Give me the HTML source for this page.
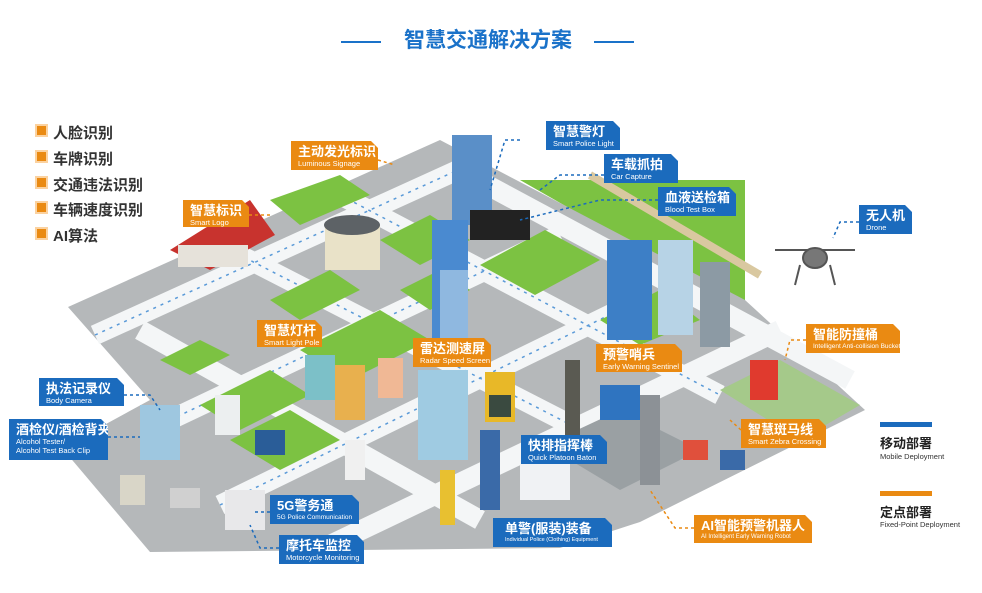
<!DOCTYPE html>
<html><head><meta charset="utf-8"><style>
html,body{margin:0;padding:0;background:#fff;}
body{width:982px;height:593px;position:relative;overflow:hidden;font-family:"Liberation Sans","Noto Sans CJK SC",sans-serif;}
.lb{position:absolute;color:#fff;clip-path:polygon(0 0,calc(100% - 7px) 0,100% 7px,100% 100%,0 100%);box-sizing:border-box;padding:3px 0 0 7px;}
.b{background:#1b6bbd}.o{background:#ea8a12}
.lb .c{font-weight:bold;font-size:13px;line-height:15px;white-space:nowrap;}
.lb .e{font-size:7.5px;line-height:9px;white-space:nowrap;}
.li{position:absolute;left:35px;font-size:15px;font-weight:bold;color:#333;line-height:18px;}
.li:before{content:"";display:inline-block;width:9px;height:9px;background:#ea8a12;border:2px solid #fbd2a0;margin-right:5px;vertical-align:1px;}
</style></head><body>
<div style="position:absolute;left:341px;top:41px;width:40px;height:2px;background:#1a72c9"></div>
<div style="position:absolute;left:594px;top:41px;width:40px;height:2px;background:#1a72c9"></div>
<div style="position:absolute;left:388px;top:28px;width:200px;text-align:center;font-size:21px;font-weight:bold;color:#1a72c9;line-height:26px">智慧交通解决方案</div>

<div class="li" style="top:124px">人脸识别</div>
<div class="li" style="top:150px">车牌识别</div>
<div class="li" style="top:176px">交通违法识别</div>
<div class="li" style="top:201px">车辆速度识别</div>
<div class="li" style="top:227px">AI算法</div>

<svg width="982" height="593" style="position:absolute;left:0;top:0">
<polygon points="520,180 745,180 745,310 660,260" fill="#7cc242"/>
<line x1="590" y1="175" x2="760" y2="275" stroke="#d9c8a0" stroke-width="8"/>
<polygon points="68,307 440,140 520,182 745,300 865,410 640,522 560,548 150,552 62,448 150,400" fill="#b5b8ba"/>
<g stroke="#f4f6f7" stroke-width="20" fill="none">
<line x1="95" y1="335" x2="480" y2="160"/>
<line x1="170" y1="420" x2="560" y2="235"/>
<line x1="220" y1="505" x2="640" y2="300"/>
<line x1="330" y1="545" x2="780" y2="330"/>
<line x1="230" y1="250" x2="620" y2="450"/>
<line x1="340" y1="195" x2="720" y2="395"/>
<line x1="140" y1="330" x2="480" y2="520"/>
<line x1="450" y1="165" x2="850" y2="380"/>
</g>
<g stroke="#5a9ad8" stroke-width="1.5" stroke-dasharray="3 5" fill="none">
<line x1="95" y1="335" x2="480" y2="160"/>
<line x1="170" y1="420" x2="560" y2="235"/>
<line x1="220" y1="505" x2="640" y2="300"/>
<line x1="230" y1="250" x2="620" y2="450"/>
<line x1="340" y1="195" x2="720" y2="395"/>
</g>
<g fill="#7cc242">
<polygon points="270,300 330,270 360,290 300,320"/>
<polygon points="300,350 380,310 430,340 350,380"/>
<polygon points="200,405 270,370 310,395 240,430"/>
<polygon points="230,440 290,410 340,440 280,470"/>
<polygon points="480,265 545,230 600,260 535,295"/>
<polygon points="380,240 430,215 470,240 420,265"/>
<polygon points="270,200 340,175 370,195 300,225"/>
<polygon points="600,320 660,290 700,320 640,345"/>
<polygon points="400,290 440,270 470,290 430,310"/>
<polygon points="160,360 200,340 230,355 190,375"/>
</g>
<polygon points="720,390 780,360 860,405 800,440" fill="#a5c98a"/>
<polygon points="545,445 620,410 700,450 620,490" fill="#9aa0a3"/>
<polygon points="170,250 250,200 275,235 210,270" fill="#c8332e"/>
<rect x="178" y="245" width="70" height="22" fill="#e6e2da"/>
<rect x="325" y="225" width="55" height="45" fill="#e9e2c8"/><ellipse cx="352" cy="225" rx="28" ry="10" fill="#5d6266"/>
<rect x="452" y="135" width="40" height="90" fill="#5a8fc8"/>
<rect x="432" y="220" width="36" height="120" fill="#4a8ad0"/><rect x="440" y="270" width="28" height="70" fill="#8fb8e0"/>
<rect x="607" y="240" width="45" height="100" fill="#3d7fc6"/>
<rect x="658" y="240" width="35" height="95" fill="#b7d3e6"/>
<rect x="700" y="262" width="30" height="85" fill="#8c9aa4"/>
<rect x="418" y="370" width="50" height="90" fill="#9fcbe2"/>
<rect x="305" y="355" width="30" height="45" fill="#7cc0c8"/><rect x="335" y="365" width="30" height="55" fill="#e8b04e"/><rect x="378" y="358" width="25" height="40" fill="#f0b895"/>
<rect x="215" y="395" width="25" height="40" fill="#eceff0"/>
<rect x="255" y="430" width="30" height="25" fill="#2a5d98"/>
<rect x="345" y="440" width="20" height="40" fill="#f0f0f0"/>
<rect x="120" y="475" width="25" height="30" fill="#d9d6c8"/>
<rect x="170" y="488" width="30" height="20" fill="#d0d0d0"/>
<rect x="600" y="385" width="40" height="35" fill="#2f74c0"/>
<rect x="640" y="395" width="20" height="90" fill="#8c9196"/>
<rect x="485" y="372" width="30" height="50" fill="#e8b828"/><rect x="489" y="395" width="22" height="22" fill="#3a4a40"/>
<rect x="565" y="360" width="15" height="80" fill="#5a5a52"/>
<rect x="683" y="440" width="25" height="20" fill="#e0503c"/><rect x="720" y="450" width="25" height="20" fill="#3a6aa8"/>
<rect x="750" y="360" width="28" height="40" fill="#e03a2e"/>
<rect x="470" y="210" width="60" height="30" fill="#222"/>
<rect x="520" y="460" width="50" height="40" fill="#f0f2f4"/>
<rect x="480" y="430" width="20" height="80" fill="#3a6aa8"/>
<rect x="440" y="470" width="15" height="55" fill="#e8c030"/>
<rect x="225" y="490" width="40" height="40" fill="#e8e8ea"/>
<rect x="140" y="405" width="40" height="55" fill="#9ec7e0"/>
<g stroke="#555" stroke-width="2" fill="#777"><line x1="775" y1="250" x2="855" y2="250"/><ellipse cx="815" cy="258" rx="12" ry="10"/><line x1="800" y1="265" x2="795" y2="285"/><line x1="830" y1="265" x2="835" y2="285"/></g>
<g fill="none" stroke-width="1.5" stroke-dasharray="3 3">
<path d="M520,140 L505,140 L490,190" stroke="#1b6bbd"/>
<path d="M604,175 L560,175 L540,190" stroke="#1b6bbd"/>
<path d="M658,200 L600,200 L520,220" stroke="#1b6bbd"/>
<path d="M859,222 L840,222 L833,238" stroke="#1b6bbd"/>
<path d="M124,395 L150,395 L160,410" stroke="#1b6bbd"/>
<path d="M108,437 L140,437" stroke="#1b6bbd"/>
<path d="M270,512 L255,512" stroke="#1b6bbd"/>
<path d="M279,548 L260,548 L250,525" stroke="#1b6bbd"/>
<path d="M378,160 L395,165" stroke="#ea8a12"/>
<path d="M249,215 L270,215" stroke="#ea8a12"/>
<path d="M806,340 L790,340 L785,360" stroke="#ea8a12"/>
<path d="M741,430 L730,420" stroke="#ea8a12"/>
<path d="M694,528 L675,528 L650,490" stroke="#ea8a12"/>
</g>
</svg>

<div class="lb o" style="left:183px;top:200px;width:66px;height:27px"><div class="c">智慧标识</div><div class="e">Smart Logo</div></div>
<div class="lb o" style="left:291px;top:141px;width:87px;height:29px"><div class="c">主动发光标识</div><div class="e">Luminous Signage</div></div>
<div class="lb b" style="left:546px;top:121px;width:74px;height:29px"><div class="c">智慧警灯</div><div class="e">Smart Police Light</div></div>
<div class="lb b" style="left:604px;top:154px;width:74px;height:29px"><div class="c">车载抓拍</div><div class="e">Car Capture</div></div>
<div class="lb b" style="left:658px;top:187px;width:78px;height:29px"><div class="c">血液送检箱</div><div class="e">Blood Test Box</div></div>
<div class="lb b" style="left:859px;top:205px;width:53px;height:29px"><div class="c">无人机</div><div class="e">Drone</div></div>
<div class="lb o" style="left:806px;top:324px;width:94px;height:29px"><div class="c">智能防撞桶</div><div class="e" style="font-size:6.5px">Intelligent Anti-collision Bucket</div></div>
<div class="lb o" style="left:257px;top:320px;width:65px;height:27px"><div class="c">智慧灯杆</div><div class="e">Smart Light Pole</div></div>
<div class="lb o" style="left:413px;top:338px;width:78px;height:29px"><div class="c">雷达测速屏</div><div class="e">Radar Speed Screen</div></div>
<div class="lb o" style="left:596px;top:344px;width:86px;height:28px"><div class="c">预警哨兵</div><div class="e">Early Warning Sentinel</div></div>
<div class="lb b" style="left:39px;top:378px;width:85px;height:28px"><div class="c">执法记录仪</div><div class="e">Body Camera</div></div>
<div class="lb b" style="left:9px;top:419px;width:99px;height:41px"><div class="c">酒检仪/酒检背夹</div><div class="e">Alcohol Tester/</div><div class="e">Alcohol Test Back Clip</div></div>
<div class="lb b" style="left:521px;top:435px;width:86px;height:29px"><div class="c">快排指挥棒</div><div class="e">Quick Platoon Baton</div></div>
<div class="lb o" style="left:741px;top:419px;width:85px;height:29px"><div class="c">智慧斑马线</div><div class="e">Smart Zebra Crossing</div></div>
<div class="lb b" style="left:270px;top:495px;width:89px;height:29px"><div class="c">5G警务通</div><div class="e" style="font-size:6.5px">5G Police Communication</div></div>
<div class="lb b" style="left:279px;top:535px;width:85px;height:29px"><div class="c">摩托车监控</div><div class="e">Motorcycle Monitoring</div></div>
<div class="lb b" style="left:493px;top:518px;width:119px;height:29px;padding-left:12px"><div class="c">单警(服装)装备</div><div class="e" style="font-size:5.5px">Individual Police (Clothing) Equipment</div></div>
<div class="lb o" style="left:694px;top:515px;width:118px;height:28px"><div class="c">AI智能预警机器人</div><div class="e" style="font-size:6px">AI Intelligent Early Warning Robot</div></div>

<div style="position:absolute;left:880px;top:422px;width:52px;height:5px;background:#1b6bbd"></div>
<div style="position:absolute;left:880px;top:433px;font-size:13px;font-weight:bold;color:#222">移动部署</div>
<div style="position:absolute;left:880px;top:452px;font-size:7.5px;color:#333">Mobile Deployment</div>
<div style="position:absolute;left:880px;top:491px;width:52px;height:5px;background:#ea8a12"></div>
<div style="position:absolute;left:880px;top:502px;font-size:13px;font-weight:bold;color:#222">定点部署</div>
<div style="position:absolute;left:880px;top:520px;font-size:7.5px;color:#333">Fixed-Point Deployment</div>
</body></html>
